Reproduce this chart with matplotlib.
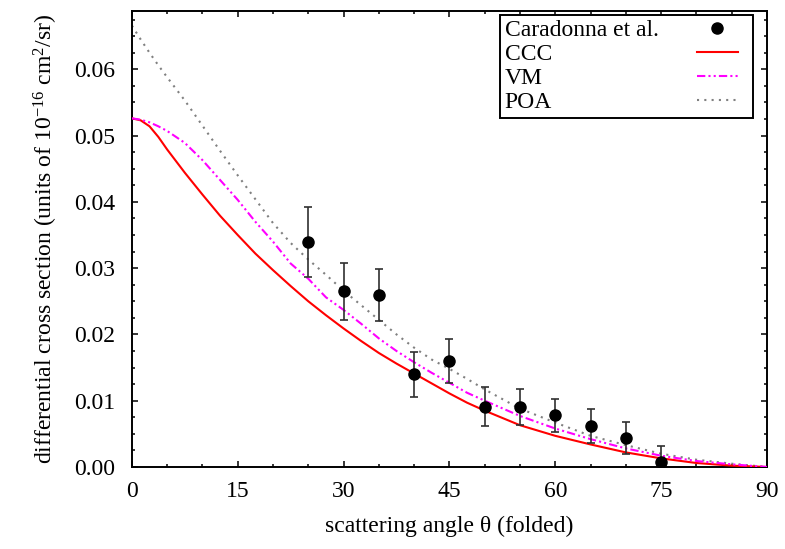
import matplotlib
matplotlib.use("Agg")
import matplotlib.pyplot as plt
from matplotlib.ticker import MultipleLocator, FormatStrFormatter
from matplotlib.offsetbox import DrawingArea

plt.rcParams["font.family"] = ["Liberation Serif", "DejaVu Serif"]
plt.rcParams["mathtext.fontset"] = "custom"
plt.rcParams["mathtext.rm"] = "Liberation Serif"
plt.rcParams["mathtext.it"] = "Liberation Serif:italic"

FS = 17

# Measured differential cross sections (Caradonna et al.)
exp_angle = [25, 30, 35, 40, 45, 50, 55, 60, 65, 70, 75]
exp_dcs = [0.0339, 0.0265, 0.0260, 0.0140, 0.0160, 0.0091, 0.0091, 0.0078, 0.0062, 0.0044, 0.0008]
exp_err = [0.0053, 0.0043, 0.0039, 0.0034, 0.0033, 0.0029, 0.0027, 0.0025, 0.0026, 0.0024, 0.0023]

# Theory curves
theory_angle = [0, 1.25, 2.5, 3.75, 5, 7.5, 10, 12.5, 15, 17.5, 20, 22.5, 25, 27.5, 30,
                32.5, 35, 37.5, 40, 42.5, 45, 47.5, 50, 55, 60, 65, 70, 75, 80, 85, 90]
ccc = [0.0526, 0.0523, 0.0514, 0.0498, 0.0479, 0.0444, 0.0411, 0.0379, 0.0350, 0.0322,
       0.0297, 0.0273, 0.0250, 0.0229, 0.0209, 0.0190, 0.0172, 0.0156, 0.0141, 0.0126,
       0.0111, 0.0097, 0.0085, 0.0063, 0.0047, 0.0034, 0.0022, 0.0013, 0.0006, 0.0002,
       0.0000]
vm = [0.0526, 0.0524, 0.0520, 0.0514, 0.0507, 0.0489, 0.0463, 0.0433, 0.0403, 0.0370,
      0.0340, 0.0307, 0.0284, 0.0256, 0.0237, 0.0216, 0.0194, 0.0175, 0.0158, 0.0142,
      0.0127, 0.0112, 0.0100, 0.0077, 0.0058, 0.0042, 0.0028, 0.0017, 0.0009, 0.0004,
      0.0000]
poa = [0.0666, 0.0645, 0.0625, 0.0606, 0.0588, 0.0553, 0.0515, 0.0477, 0.0440, 0.0404,
       0.0368, 0.0338, 0.0313, 0.0290, 0.0266, 0.0244, 0.0222, 0.0200, 0.0180, 0.0162,
       0.0148, 0.0133, 0.0117, 0.0088, 0.0067, 0.0047, 0.0033, 0.0020, 0.0011, 0.0005,
       0.0000]

x_ticks = [0, 15, 30, 45, 60, 75, 90]

fig = plt.figure(figsize=(7.85, 5.49), dpi=100)
ax = fig.add_axes([0.168, 0.1494, 0.809, 0.8306])

eb = ax.errorbar(exp_angle, exp_dcs, yerr=exp_err, fmt="o", color="black", ms=8,
                 ecolor="#303030", elinewidth=1.2, capsize=3, capthick=1.2, zorder=5)
l_ccc, = ax.plot(theory_angle, ccc, color="#ff0000", lw=1.5, zorder=3)
l_vm, = ax.plot(theory_angle, vm, color="#ff00ff", lw=1.5,
                dashes=(4, 1.5, 1, 1.5, 1, 1.5), zorder=3)
l_poa, = ax.plot(theory_angle, poa, color="#808080", lw=1.5, dashes=(1, 2.5), zorder=2)

ax.set_xlim(0, 90)
ax.set_ylim(0, 0.0688)
ax.set_xticks(x_ticks)
ax.xaxis.set_minor_locator(MultipleLocator(5))
ax.yaxis.set_major_locator(MultipleLocator(0.01))
ax.yaxis.set_minor_locator(MultipleLocator(0.0025))
ax.yaxis.set_major_formatter(FormatStrFormatter("%.2f"))
ax.tick_params(which="both", direction="in", top=True, right=True, labelsize=FS,
               width=1.1)
ax.tick_params(which="major", length=4.5)
ax.tick_params(which="minor", length=2.5)
ax.tick_params(axis="y", pad=12)
ax.tick_params(axis="x", pad=10)
for s in ax.spines.values():
    s.set_linewidth(1.4)

ax.set_xlabel("scattering angle θ (folded)", fontsize=FS, labelpad=10)
ax.set_ylabel(r"differential cross section (units of 10$^{-16}$ cm$^2$/sr)",
              fontsize=FS, labelpad=10)

leg = ax.legend([eb.lines[0], l_ccc, l_vm, l_poa],
                ["Caradonna et al.", "CCC", "VM", "POA"],
                loc="upper right", markerfirst=False, fontsize=FS, handlelength=1.74,
                labelspacing=0.1, borderpad=0.2, handletextpad=0.45,
                borderaxespad=0.0, fancybox=False, framealpha=1, numpoints=1,
                bbox_to_anchor=(0.978, 0.991))
leg.get_frame().set_edgecolor("black")
leg.get_frame().set_linewidth(1.4)

# Labels flush left, samples in a right-hand column: pad each row after its label
# so that every row has the same width.
fig.canvas.draw()
renderer = fig.canvas.get_renderer()
to_pt = 72.0 / fig.dpi
widths = [t.get_window_extent(renderer).width * to_pt for t in leg.get_texts()]
wmax = max(widths)
rows = leg._legend_handle_box.get_children()[0].get_children()
for row, w in zip(rows, widths):
    kids = row.get_children()
    text_box, handle_box = kids[0], kids[1]
    kids[:] = [text_box, DrawingArea(12 + wmax - w, 1), handle_box, DrawingArea(0, 1)]

fig.savefig("out.png", dpi=100)
